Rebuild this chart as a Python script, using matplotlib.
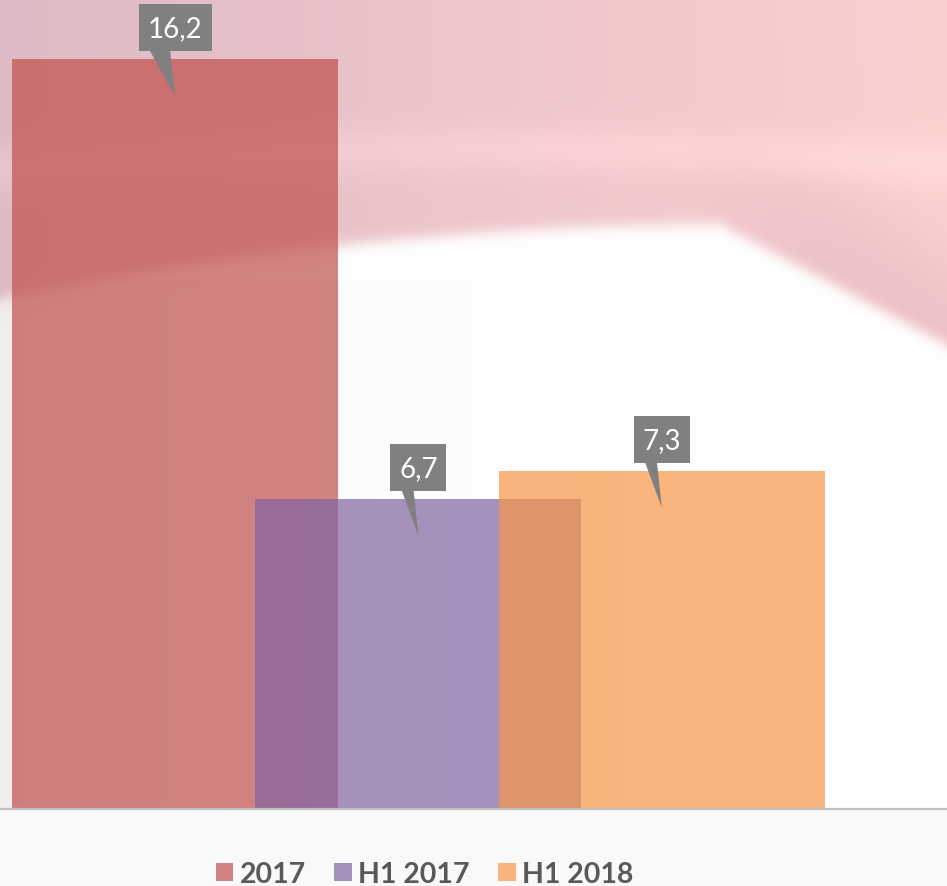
import numpy as np
import matplotlib
matplotlib.use("Agg")
import matplotlib.pyplot as plt
import matplotlib.transforms as mtransforms
from matplotlib.patches import Rectangle, Polygon

# ================= DATA =================
categories = ["2017", "H1 2017", "H1 2018"]
values = [16.2, 6.7, 7.3]
colors = ["#C0504D", "#8064A2", "#F79646"]

W, H = 947, 887

# ================= BACKGROUND (decorative swoosh) =================
yy, xx = np.mgrid[0:H, 0:W].astype(float)

# boundary of the pink wave
yb = np.where(xx <= 720, 225 + 1.447e-4 * (720 - xx) ** 2, 225 + (xx - 720) * 0.53)
above = 1 / (1 + np.exp(-(yb - yy) / 4.0))

fx = xx / W
pink = np.zeros((H, W, 3))
left_c = np.array([222, 186, 196])
right_c = np.array([253, 208, 208])
for k in range(3):
    pink[..., k] = left_c[k] * (1 - fx) + right_c[k] * fx
# lighter streak through the wave
streak = np.exp(-((yy - (150 + 0.00008 * (xx - 500) ** 2)) / 25) ** 2)
pink += streak[..., None] * 10
# mauve tail on the right (soft)
tw = (1 / (1 + np.exp(-(xx - 760) / 40))) * (1 / (1 + np.exp(-(yy - (yb - 70)) / 25)))
pink = pink * (1 - 0.55 * tw[..., None]) + np.array([222, 178, 188]) * 0.55 * tw[..., None]

low = np.full((H, W, 3), 255.0)
shade = 14 * np.exp(-xx / 220) * (yy > 280)
low -= shade[..., None] * np.array([1.0, 1.2, 1.1])
low[yy > 810] = np.array([249, 249, 249])

bg = pink * above[..., None] + low * (1 - above[..., None])
bg = np.clip(bg, 0, 255) / 255

# ================= FIGURE =================
fig = plt.figure(figsize=(W / 100, H / 100), dpi=100)
bg_ax = fig.add_axes([0, 0, 1, 1])
bg_ax.imshow(bg, aspect="auto")
bg_ax.axis("off")

ax = fig.add_axes([0, (H - 810) / H, 1, 810 / H])
ax.patch.set_alpha(0)

x = np.arange(len(categories))
for i in range(len(categories)):
    ax.bar(x[i], values[i], width=1.339, color=colors[i], alpha=0.7,
           label=categories[i], zorder=1)

ax.set_xlim(-0.719, 3.171)
ax.set_ylim(0, 17.5)
ax.set_xticks([])
ax.set_yticks([])
for s in ["top", "left", "right"]:
    ax.spines[s].set_visible(False)
ax.spines["bottom"].set_color("#BFBFBF")
ax.spines["bottom"].set_linewidth(1.6)

# ================= CALLOUT LABELS =================
for i, v in enumerate(values):
    label = f"{v:.1f}".replace(".", ",")
    # offsets below are in pixels relative to the bar top centre
    trans = (mtransforms.Affine2D().scale(1 / fig.dpi) + fig.dpi_scale_trans
             + mtransforms.ScaledTranslation(x[i], v, ax.transData))
    w = 17 * len(label) + 5
    ax.add_patch(Rectangle((-w / 2, 8), w, 47, transform=trans,
                           facecolor="#808080", edgecolor="none", zorder=5))
    ax.add_patch(Polygon([(-w / 2 + 11, 9), (-5, 9), (0, -37)], closed=True,
                         transform=trans, facecolor="#808080",
                         edgecolor="none", zorder=5))
    ax.text(0, 31, label, transform=trans, ha="center", va="center",
            color="white", fontsize=20, family="Lato", zorder=6)

# ================= LEGEND =================
leg = fig.legend(loc="center", bbox_to_anchor=(424.5 / W, 1 - 875 / H),
                 ncol=3, frameon=False, handlelength=0.62, handleheight=0.62,
                 handletextpad=0.22, columnspacing=1.0,
                 prop={"family": "Lato", "weight": "bold", "size": 20.5})
for t in leg.get_texts():
    t.set_color("#595959")

fig.savefig("out.png", dpi=100)
